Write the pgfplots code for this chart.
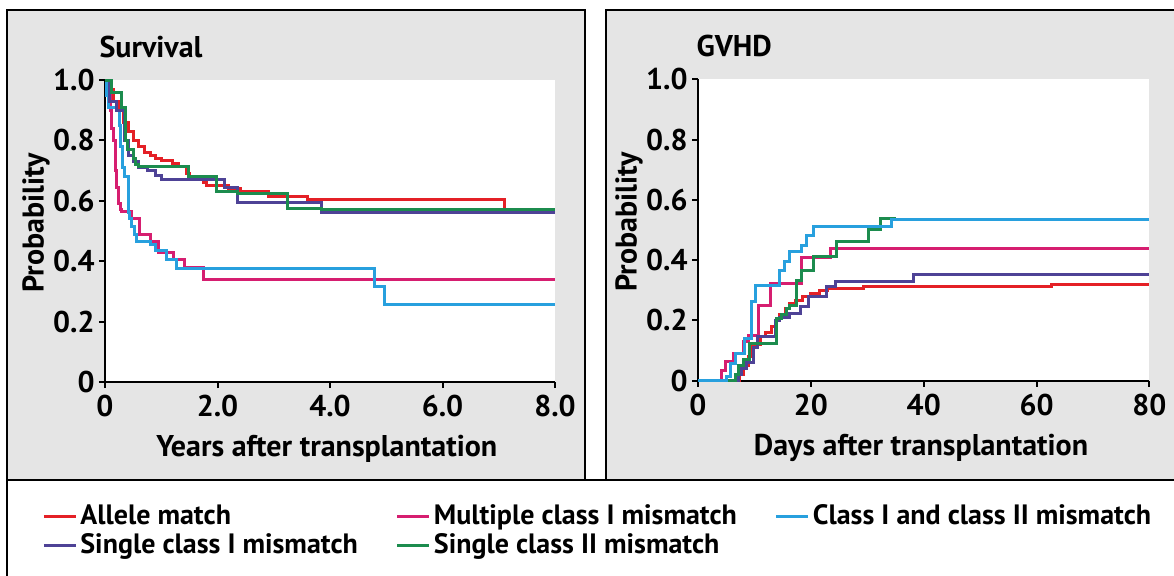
\documentclass[border=0pt]{standalone}
\usepackage{pgfplots}
\pgfplotsset{compat=1.18}
\usepackage{fontspec}
\setmainfont{PT Sans}
\definecolor{cRed}{RGB}{228,32,38}
\definecolor{cMag}{RGB}{214,30,112}
\definecolor{cBlue}{RGB}{40,160,222}
\definecolor{cPur}{RGB}{78,66,150}
\definecolor{cGrn}{RGB}{28,140,78}
\definecolor{panel}{RGB}{229,229,229}
\newcommand\chartfont{\fontsize{15}{17}\selectfont\bfseries}
\newcommand\legfont{\fontsize{14}{16.5}\selectfont\bfseries}
\pgfplotsset{kmstyle/.style={
  scale only axis,
  axis x line*=bottom, axis y line*=left,
  axis line style={line width=1pt, black},
  every tick/.style={black, line width=1pt},
  major tick length=3pt, tick align=outside,
  axis background/.style={fill=white},
  ymin=0, ymax=1, ytick={0,0.2,0.4,0.6,0.8,1}, yticklabels={0,0.2,0.4,0.6,0.8,1.0},
  ticklabel style={font=\chartfont},
  yticklabel style={inner sep=2pt},
  label style={font=\chartfont},
  title style={font=\chartfont, anchor=base west, yshift=-6pt, inner sep=0pt},
  ylabel style={at={(axis description cs:-0.153,0.526)}, anchor=center},
  xlabel style={anchor=center},
  clip=false,
  every axis plot/.append style={line width=1.5pt, const plot, mark=none},
}}
\begin{document}
\begin{tikzpicture}
\useasboundingbox (0,0) rectangle (587pt,287.5pt);
\draw[fill=panel, line width=1pt] (3.5pt,282.5pt) rectangle (292.5pt,47.5pt);
\draw[fill=panel, line width=1pt] (303pt,282.5pt) rectangle (590pt,47.5pt);
\draw[fill=white, line width=1pt] (3.5pt,47.5pt) rectangle (592pt,-3pt);

\begin{axis}[kmstyle,
  at={(52.5pt,96.5pt)}, anchor=south west,
  width=225pt, height=151pt,
  xmin=0, xmax=8, xtick={0,2,4,6,8}, xticklabels={0,2.0,4.0,6.0,8.0},
  title={Survival}, title style={at={(axis description cs:-0.013,1.076)}},
  ylabel={Probability},
  xlabel={Years after transplantation}, xlabel style={at={(axis description cs:0.493,-0.222)}},
  legend columns=3,
  legend cell align=left,
  legend style={at={(axis description cs:-0.14,-0.395)}, anchor=north west, draw=none, fill=none,
    font=\legfont, column sep=0pt, row sep=0pt, inner sep=0pt, nodes={inner sep=1.5pt},
    /tikz/every even column/.append style={column sep=17.5pt}},
  legend image code/.code={\draw[#1, line width=1.5pt] (0pt,0pt) -- (16pt,0pt);},
]
% Allele match
\addplot[cRed] coordinates {(0,1) (0.09,0.97) (0.15,0.93) (0.25,0.90) (0.33,0.86) (0.42,0.83) (0.5,0.80) (0.6,0.78) (0.7,0.76) (0.8,0.75) (0.9,0.74) (1.0,0.735) (1.2,0.725) (1.3,0.715) (1.45,0.69) (1.5,0.675) (1.75,0.66) (1.8,0.65) (2.2,0.64) (2.4,0.63) (2.9,0.615) (3.6,0.605) (7.1,0.57) (8,0.57)};
\addlegendentry{Allele match}
% Multiple class I mismatch
\addplot[cMag] coordinates {(0,1) (0.04,0.96) (0.09,0.90) (0.12,0.84) (0.15,0.80) (0.18,0.70) (0.21,0.645) (0.24,0.59) (0.27,0.57) (0.30,0.565) (0.47,0.543) (0.62,0.487) (0.80,0.465) (0.95,0.43) (1.21,0.404) (1.42,0.38) (1.75,0.34) (8,0.34)};
\addlegendentry{Multiple class I mismatch}
% Class I and class II mismatch
\addplot[cBlue] coordinates {(0,1) (0.03,0.95) (0.06,0.91) (0.2,0.90) (0.25,0.85) (0.28,0.78) (0.31,0.71) (0.34,0.68) (0.41,0.56) (0.44,0.54) (0.47,0.515) (0.53,0.49) (0.56,0.465) (0.80,0.455) (0.89,0.437) (1.1,0.404) (1.27,0.375) (4.79,0.316) (4.97,0.255) (8,0.255)};
\addlegendentry{Class I and class II mismatch}
% Single class I mismatch
\addplot[cPur] coordinates {(0,1) (0.08,0.93) (0.2,0.90) (0.35,0.80) (0.42,0.75) (0.5,0.73) (0.6,0.71) (0.75,0.70) (0.9,0.685) (1.0,0.67) (2.12,0.645) (2.35,0.595) (3.85,0.56) (8,0.56)};
\addlegendentry{Single class I mismatch}
% Single class II mismatch
\addplot[cGrn] coordinates {(0,1) (0.12,0.96) (0.3,0.91) (0.36,0.80) (0.4,0.77) (0.5,0.74) (0.55,0.72) (0.6,0.713) (1.48,0.68) (1.98,0.63) (2.35,0.625) (3.25,0.575) (3.85,0.57) (8,0.57)};
\addlegendentry{Single class II mismatch}
\end{axis}

\begin{axis}[kmstyle,
  at={(349pt,97.15pt)}, anchor=south west,
  width=225.75pt, height=150.75pt,
  xmin=0, xmax=80, xtick={0,20,40,60,80}, xticklabels={0,20,40,60,80},
  title={GVHD}, title style={at={(axis description cs:-0.004,1.076)}},
  ylabel={Probability},
  xlabel={Days after transplantation}, xlabel style={at={(axis description cs:0.494,-0.222)}},
]
\addplot[cRed] coordinates {(0,0) (7.4,0.02) (8,0.05) (9,0.08) (9.5,0.12) (11,0.145) (12,0.16) (13,0.18) (13.7,0.20) (14.5,0.22) (15.5,0.24) (16.3,0.255) (17.2,0.265) (18.5,0.28) (20,0.29) (21.5,0.30) (23,0.306) (29.4,0.311) (62.7,0.32) (80,0.32)};
\addplot[cMag] coordinates {(0,0) (4.2,0.035) (4.8,0.063) (6.3,0.09) (8.0,0.13) (9.0,0.15) (10.7,0.25) (12.8,0.323) (18.4,0.41) (23.4,0.44) (80,0.44)};
\addplot[cPur] coordinates {(0,0) (7.2,0.02) (7.7,0.04) (8.6,0.06) (9.8,0.11) (10.6,0.145) (13.7,0.20) (14.5,0.21) (16.3,0.224) (18.1,0.245) (19.5,0.279) (22.8,0.312) (24.3,0.33) (38.2,0.353) (80,0.353)};
\addplot[cGrn] coordinates {(0,0) (6.6,0.02) (7.2,0.05) (8.0,0.07) (9.2,0.124) (13.9,0.207) (14.8,0.22) (15.7,0.24) (16.3,0.25) (17.4,0.334) (18.4,0.367) (20.4,0.411) (24.6,0.461) (30.2,0.50) (32.3,0.538) (35,0.538)};
\addplot[cBlue] coordinates {(0,0) (5.1,0.013) (5.7,0.058) (6.6,0.09) (8.3,0.14) (9.5,0.262) (10.1,0.317) (14.5,0.367) (15.4,0.395) (16.3,0.43) (18.4,0.45) (19.3,0.483) (20.4,0.51) (34.3,0.535) (80,0.535)};
\end{axis}
\end{tikzpicture}
\end{document}
